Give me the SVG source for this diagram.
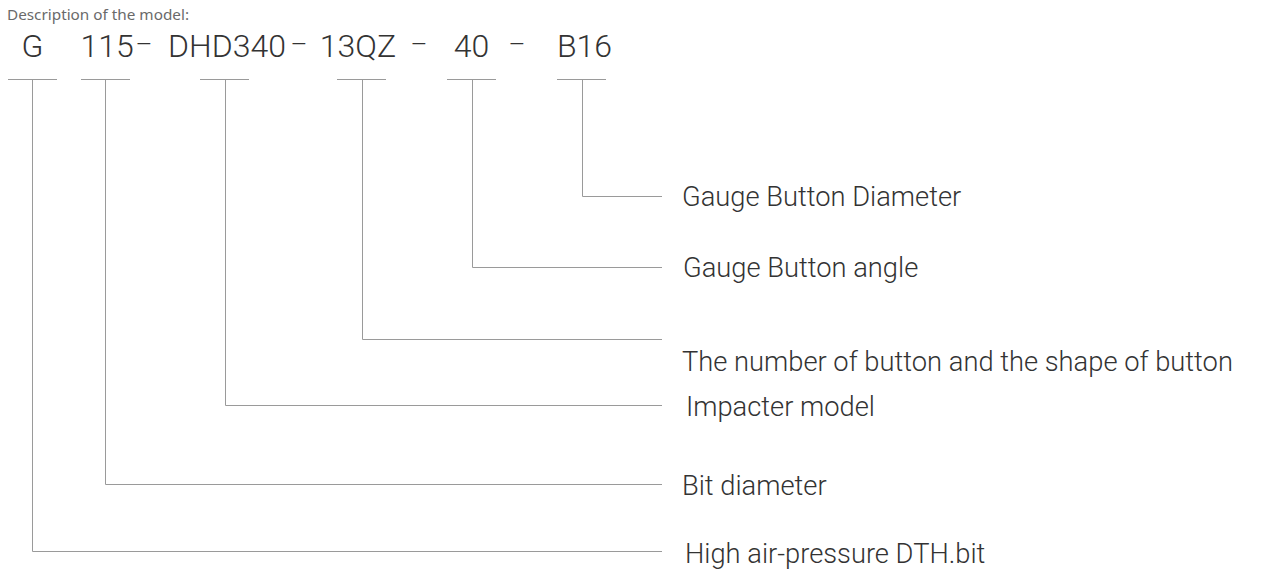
<svg xmlns="http://www.w3.org/2000/svg" width="1269" height="574" viewBox="0 0 1269 574">
<style>
.bg{fill:#ffffff}
.code{font-family:Roboto,"Liberation Sans",Arial,sans-serif;font-weight:300;font-size:32px;fill:#333333;text-anchor:middle}
.dash{font-family:Roboto,"Liberation Sans",Arial,sans-serif;font-weight:300;font-size:26px;fill:#333333;text-anchor:middle}
.lbl{font-family:Roboto,"Liberation Sans",Arial,sans-serif;font-weight:300;font-size:27.3px;fill:#333333}
.title{font-family:"Noto Sans","Liberation Sans",sans-serif;font-size:14px;fill:#6a6a6a}
.ln{stroke:#9a9a9a;stroke-width:1;fill:none}
</style>
<rect class="bg" x="0" y="0" width="1269" height="574"/>
<text class="title" x="7" y="20" textLength="182" lengthAdjust="spacingAndGlyphs">Description of the model:</text>
<g id="code">
<text class="code" x="32.5" y="57">G</text>
<text class="code" x="107" y="57">115</text>
<text class="dash" x="144" y="53">–</text>
<text class="code" x="227" y="57">DHD340</text>
<text class="dash" x="299" y="53">–</text>
<text class="code" x="358" y="57">13QZ</text>
<text class="dash" x="419" y="53">–</text>
<text class="code" x="471.5" y="57">40</text>
<text class="dash" x="517" y="53">–</text>
<text class="code" x="584.5" y="57">B16</text>
</g>
<g id="connectors">
<path class="ln" d="M8 79.5H57 M32.5 79.5V551.5H662"/>
<path class="ln" d="M81 79.5H130 M105.5 79.5V484.5H662"/>
<path class="ln" d="M200 79.5H249 M225.5 79.5V405.5H662"/>
<path class="ln" d="M337 79.5H386 M362.5 79.5V339.5H662"/>
<path class="ln" d="M447 79.5H496 M472.5 79.5V267.5H662"/>
<path class="ln" d="M557 79.5H606 M582.5 79.5V196.5H662"/>
</g>
<g id="label-b16"><text class="lbl" x="682" y="206">Gauge Button Diameter</text></g>
<g id="label-40"><text class="lbl" x="683" y="277">Gauge Button angle</text></g>
<g id="label-13qz"><text class="lbl" x="682" y="371">The number of button and the shape of button</text></g>
<g id="label-dhd340"><text class="lbl" x="686" y="416">Impacter model</text></g>
<g id="label-115"><text class="lbl" x="682" y="495">Bit diameter</text></g>
<g id="label-g"><text class="lbl" x="685" y="563">High air-pressure DTH.bit</text></g>
</svg>
